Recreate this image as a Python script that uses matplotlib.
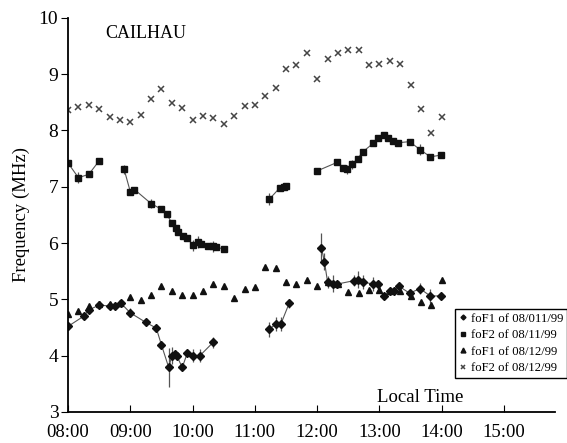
import matplotlib.pyplot as plt
import numpy as np

plt.rcParams['font.family'] = ['Liberation Serif', 'DejaVu Serif']

# foF1 of 08/11/99 (diamonds, line + error bars); nan marks a break in the line
t_f1_11 = ['08:00', '08:15', '08:20', '08:30', '08:40', '08:45', '08:51', '09:00', '09:15', '09:25',
           '09:30', '09:37', '09:40', '09:43', '09:45', '09:50', '09:55', '10:00', '10:07', '10:20',
           None, '11:14', '11:20', '11:25', '11:33', None, '12:04', '12:07', '12:10', '12:15', '12:19',
           '12:35', '12:39', '12:44', '12:54', '12:59', '13:04', '13:10', '13:14', '13:19',
           '13:29', '13:39', '13:49', '13:59']
f1_11 = [4.52, 4.70, 4.81, 4.90, 4.88, 4.88, 4.93, 4.76, 4.59, 4.49,
         4.19, 3.79, 4.00, 4.03, 3.99, 3.79, 4.05, 4.00, 4.00, 4.24,
         np.nan, 4.47, 4.56, 4.56, 4.93, np.nan, 5.92, 5.67, 5.31, 5.28, 5.27,
         5.33, 5.35, 5.31, 5.27, 5.27, 5.06, 5.15, 5.14, 5.23,
         5.11, 5.19, 5.06, 5.06]
e_f1_11 = [0, 0, 0, 0, 0, 0, 0, 0.08, 0, 0,
           0, 0.34, 0.15, 0, 0, 0, 0, 0.12, 0.12, 0.10,
           0, 0.13, 0.13, 0.13, 0.08, 0, 0.25, 0.15, 0.10, 0.15, 0,
           0.10, 0.15, 0.12, 0.12, 0, 0, 0, 0, 0,
           0, 0.10, 0.12, 0]

# foF2 of 08/11/99 (squares)
t_f2_11 = ['08:00', '08:10', '08:20', '08:30', None, '08:54', '09:00', '09:04', '09:20', '09:30',
           '09:35', '09:40', '09:44', '09:46', '09:51', '09:55', '10:00', '10:05', '10:08', '10:15',
           '10:20', '10:23', '10:30', None, '11:14', '11:24', '11:28', '11:30', None, '12:00',
           '12:19', '12:25', '12:29', '12:34', '12:39', '12:44', '12:54', '12:59', '13:04', '13:08',
           '13:13', '13:18', '13:29', '13:39', '13:49', '13:59']
f2_11 = [7.42, 7.16, 7.22, 7.46, np.nan, 7.31, 6.91, 6.95, 6.70, 6.60,
         6.52, 6.35, 6.27, 6.20, 6.12, 6.09, 5.96, 6.02, 5.98, 5.94,
         5.94, 5.93, 5.89, np.nan, 6.78, 6.98, 7.00, 7.01, np.nan, 7.28,
         7.43, 7.34, 7.31, 7.40, 7.50, 7.62, 7.77, 7.87, 7.92, 7.86,
         7.81, 7.78, 7.80, 7.66, 7.53, 7.56]
e_f2_11 = [0, 0.10, 0, 0, 0, 0.08, 0, 0, 0.08, 0,
           0, 0, 0, 0, 0, 0, 0.10, 0.10, 0, 0,
           0.10, 0, 0, 0, 0.10, 0, 0, 0, 0, 0,
           0, 0, 0.08, 0.08, 0, 0, 0, 0, 0, 0,
           0, 0, 0, 0.10, 0, 0]

# 08/12/99 soundings, every 10 minutes from 08:00 to 14:00
t_12 = ['08:00', '08:10', '08:20', '08:30', '08:40', '08:50', '09:00', '09:10', '09:20', '09:30',
        '09:40', '09:50', '10:00', '10:10', '10:20', '10:30', '10:40', '10:50', '11:00', '11:10',
        '11:20', '11:30', '11:40', '11:50', '12:00', '12:10', '12:20', '12:30', '12:40', '12:50',
        '13:00', '13:10', '13:20', '13:30', '13:40', '13:50', '14:00']
f1_12 = [4.74, 4.80, 4.89, 4.91, 4.91, 4.94, 5.04, 4.99, 5.08, 5.23,
         5.14, 5.08, 5.08, 5.15, 5.28, 5.23, 5.02, 5.18, 5.22, 5.57,
         5.55, 5.31, 5.27, 5.35, 5.23, 5.30, 5.27, 5.13, 5.11, 5.17,
         5.16, 5.15, 5.15, 5.06, 4.95, 4.90, 5.35]
f2_12 = [8.37, 8.41, 8.45, 8.38, 8.24, 8.19, 8.14, 8.27, 8.55, 8.73,
         8.49, 8.39, 8.18, 8.26, 8.22, 8.12, 8.26, 8.43, 8.45, 8.61,
         8.76, 9.09, 9.16, 9.37, 8.92, 9.26, 9.38, 9.42, 9.42, 9.16,
         9.18, 9.23, 9.18, 8.80, 8.38, 7.96, 8.24]

xtick_labels = ['08:00', '09:00', '10:00', '11:00', '12:00', '13:00', '14:00', '15:00']


def hours(ts):
    out = []
    for s in ts:
        if s is None:
            out.append(np.nan)
        else:
            h, m = s.split(':')
            out.append(int(h) + int(m) / 60)
    return np.array(out)


fig = plt.figure(figsize=(5.67, 4.43), dpi=100)
ax = fig.add_axes([0.12, 0.07, 0.859, 0.89])

line_c = '#555555'
x = hours(t_f1_11)
ax.errorbar(x, f1_11, yerr=e_f1_11, fmt='none', ecolor=line_c, elinewidth=0.9, capsize=0)
ax.plot(x, f1_11, '-', color=line_c, lw=0.8)
ax.plot(x, f1_11, 'D', color='#111111', ms=3.6, ls='none', label='foF1 of 08/011/99')

x = hours(t_f2_11)
ax.errorbar(x, f2_11, yerr=e_f2_11, fmt='none', ecolor=line_c, elinewidth=0.9, capsize=0)
ax.plot(x, f2_11, '-', color=line_c, lw=0.8)
ax.plot(x, f2_11, 's', color='#111111', ms=4.6, ls='none', label='foF2 of 08/11/99')

x = hours(t_12)
ax.plot(x, f1_12, '^', color='#111111', ms=5, ls='none', label='foF1 of 08/12/99')
ax.plot(x, f2_12, 'x', color='#444444', ms=4.5, mew=1.1, ls='none', label='foF2 of 08/12/99')

ax.set_xlim(8, 15.82)
ax.set_ylim(3, 10)
ax.set_xticks(np.arange(8, 16))
ax.set_xticklabels(xtick_labels)
ax.set_yticks(range(3, 11))
ax.tick_params(axis='x', direction='in', length=5, labelsize=13.5, pad=9)
ax.tick_params(axis='y', direction='out', length=5, labelsize=14, pad=2)
for s in ['top', 'right']:
    ax.spines[s].set_visible(False)
ax.spines['left'].set_linewidth(1.3)
ax.spines['bottom'].set_linewidth(1.3)

ax.set_ylabel('Frequency (MHz)', fontsize=13.5, labelpad=6)
ax.text(9.24, 9.72, 'CAILHAU', fontsize=13, ha='center', va='center')
ax.text(13.65, 3.25, 'Local Time', fontsize=13.5, ha='center', va='center')

leg = ax.legend(loc='lower right', bbox_to_anchor=(1.0, 0.147), bbox_transform=fig.transFigure,
                borderaxespad=0, fontsize=9.2, fancybox=False, framealpha=1,
                handlelength=0.6, handletextpad=0.3, borderpad=0.3, labelspacing=0.35,
                markerscale=0.7)
leg.get_frame().set_edgecolor('black')
leg.get_frame().set_linewidth(1.0)

fig.savefig('out.png', dpi=100)
